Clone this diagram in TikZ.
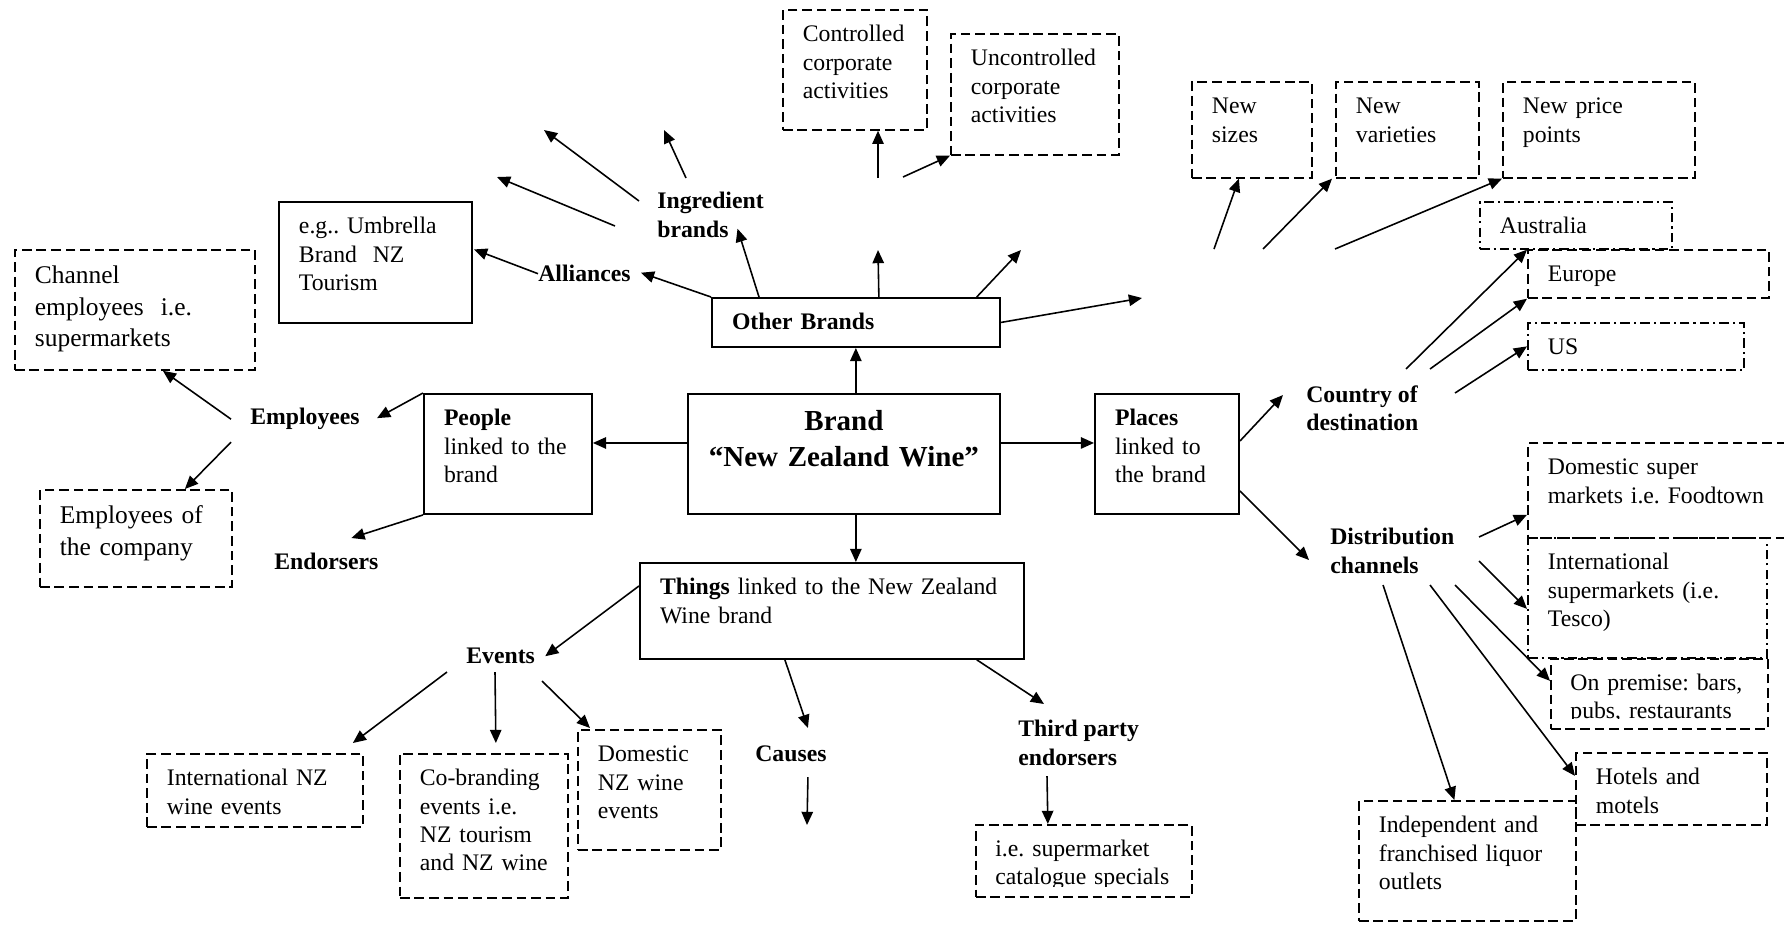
\documentclass[tikz,border=0pt]{standalone}
\usepackage{fontspec}
\setmainfont{Liberation Serif}
\usepackage{tikz}
\usetikzlibrary{arrows.meta,positioning,calc}
\frenchspacing

\begin{document}
\begin{tikzpicture}[x=0.02cm, y=-0.02cm,
        font=\fontsize{13.5}{16.1}\selectfont,
        tbox/.style={anchor=north west, align=left, inner xsep=11.4pt, inner ysep=6pt, text height=12.2pt},
        sbox/.style={draw, line width=1.1pt},
        dbox/.style={draw, line width=1pt, dash pattern=on 5.5pt off 2.8pt},
        ddbox/.style={draw, line width=1pt, dash pattern=on 5.5pt off 2.3pt on 1.2pt off 2.3pt},
        big/.style={font=\fontsize{14.5}{17.9}\selectfont, text height=13.3pt},
        lbl/.style={anchor=north west, inner sep=0pt, align=left, font=\fontsize{13.5}{16.1}\selectfont\bfseries},
        link/.style={-{Triangle[length=7.5pt,width=6.5pt]}, line width=0.9pt}
        ]
        \path[fill=white, use as bounding box] (0,0) rectangle (1784,924);
        \clip (0,0) rectangle (1784,924);

        % the brand and its four groups
        \node[tbox, sbox, align=center, inner xsep=4pt, text height=15pt, text width=169.5pt, text depth=41.3pt,
          font=\fontsize{16.5}{20.5}\selectfont\bfseries] (brand) at (687,393) {Brand\\“New Zealand Wine”};
        \node[tbox, sbox, text width=141pt, text depth=3.7pt, font=\fontsize{13.5}{16.1}\selectfont\bfseries] (other) at (711,297) {Other Brands};
        \node[tbox, sbox, text width=72.8pt, text depth=44.1pt] (people) at (423,393) {\textbf{People}\\linked to the\\brand};
        \node[tbox, sbox, text width=59.2pt, text depth=44.1pt] (places) at (1094,393) {\textbf{Places}\\linked to\\the brand};
        \node[tbox, sbox, text width=195.7pt, text depth=30.4pt] (things) at (639,562) {\textbf{Things} linked to the New Zealand\\Wine brand};
        \node[tbox, sbox, text width=87.1pt, text depth=44.6pt] (umbr) at (278,201) {e.g.. Umbrella\\Brand\ \ NZ\\Tourism};

        \node[tbox, dbox, text width=59.2pt, text depth=44.1pt] (ctrl) at (782,9) {Controlled\\corporate\\activities};
        \node[tbox, dbox, text width=72.8pt, text depth=44.6pt] (unctrl) at (950,33) {Uncontrolled\\corporate\\activities};
        \node[tbox, dbox, big, text width=113.8pt, text depth=43pt] (chemp) at (14,249) {Channel\\employees\ \ i.e.\\supermarkets};
        \node[tbox, dbox, big, text width=86.5pt, text depth=29.9pt] (empco) at (39,489) {Employees of\\the company};
        \node[tbox, dbox, text width=45.5pt, text depth=30.4pt] (newsz) at (1191,81) {New\\sizes};
        \node[tbox, dbox, text width=58.6pt, text depth=30.4pt] (newvar) at (1335,81) {New\\varieties};
        \node[tbox, dbox, text width=86.5pt, text depth=30.4pt] (newprice) at (1502,81) {New price\\points};
        \node[tbox, ddbox, text width=86.5pt, text depth=2.5pt] (aus) at (1479,201) {Australia};
        \node[tbox, dbox, text width=114.4pt, text depth=3.1pt] (eur) at (1527,249) {Europe};
        \node[tbox, ddbox, text width=100.2pt, text depth=2.5pt] (us) at (1527,322) {US};
        \node[tbox, dbox, text width=144pt, text depth=29.9pt] (domsup) at (1527,442) {Domestic super\\markets i.e. Foodtown};
        \node[tbox, ddbox, text width=113.2pt, text depth=44.1pt] (intsup) at (1527,537) {International\\supermarkets (i.e.\\Tesco)};
        \node[dbox, anchor=north west, inner sep=0pt, minimum width=123.5pt, minimum height=39.8pt] (onprem) at (1550,658) {};
        \begin{scope}
          \clip (onprem.north west) rectangle ($(onprem.south east)+(0,-11)$);
          \node[tbox, text width=110pt, text depth=0pt] (onpremtxt) at (onprem.north west) {On premise: bars,\\pubs, restaurants};
        \end{scope}
        \node[tbox, dbox, text width=85.9pt, text depth=16.8pt] (hotels) at (1575,752) {Hotels and\\motels};
        \node[tbox, dbox, text width=100.7pt, text depth=44.1pt] (indep) at (1358,800) {Independent and\\franchised liquor\\outlets};
        \node[dbox, anchor=north west, inner sep=0pt, minimum width=122.9pt, minimum height=41pt] (catal) at (975,824) {};
        \begin{scope}
          \clip (catal.north west) rectangle ($(catal.south east)+(0,-11)$);
          \node[tbox, text width=110pt, text depth=0pt] (cataltxt) at (catal.north west) {i.e. supermarket\\catalogue specials};
        \end{scope}
        \node[tbox, dbox, text width=100.2pt, text depth=17.3pt] (intev) at (146,753) {International NZ\\wine events};
        \node[tbox, dbox, text width=72.8pt, text depth=57.7pt] (cobr) at (399,753) {Co-branding\\events i.e.\\NZ tourism\\and NZ wine};
        \node[tbox, dbox, text width=58.6pt, text depth=44.1pt] (domev) at (577,729) {Domestic\\NZ wine\\events};

        % labels without a box
        \node[lbl] (ingr) at (657,192) {Ingredient\\brands};
        \node[lbl] (alli) at (538,265) {Alliances};
        \node[lbl] (emp) at (250,408) {Employees};
        \node[lbl] (endo) at (274,553) {Endorsers};
        \node[lbl] (events) at (466,648) {Events};
        \node[lbl] (causes) at (755,745) {Causes};
        \node[lbl] (third) at (1018,720) {Third party\\endorsers};
        \node[lbl] (country) at (1306,385) {Country of\\destination};
        \node[lbl] (distr) at (1330,528) {Distribution\\channels};

        \coordinate (ingrA) at (544,130);
        \coordinate (ingrB) at (664,130);
        \coordinate (ingrC) at (497,177);
        \coordinate (otherA) at (878,250);
        \coordinate (otherB) at (1021,250);
        \coordinate (otherC) at (1142,298);
        \coordinate (corpA) at (878,178);
        \coordinate (corpB) at (903,177);
        \coordinate (extA) at (1214,249);
        \coordinate (extB) at (1263,249);
        \coordinate (extC) at (1335,249);
        \coordinate (causeEnd) at (807,825);

        \draw[link] (other.south |- brand.north) -- (other.south);
        \draw[link] ($(brand.west)+(0,-11)$) -- ($(people.east)+(0,-11)$);
        \draw[link] ($(brand.east)+(0,-11)$) -- ($(places.west)+(0,-11)$);
        \draw[link] (other.south |- brand.south) -- (other.south |- things.north);

        \draw[link] (people.north west) -- ($(emp.east)+(17,-1)$);
        \draw[link] ($(emp.west)+(-19,0)$) -- ($(chemp.south)+(28,0)$);
        \draw[link] ($(emp.west)+(-19,23)$) -- ($(empco.north)+(49,0)$);
        \draw[link] (people.south west) -- ($(endo.north)+(25,-15)$);

        \draw[link] (other.north west) -- ($(alli.east)+(10,-1)$);
        \draw[link] (alli.west) -- ($(umbr.east)+(1,-13)$);
        \draw[link] ($(other.north west)+(48,0)$) -- ($(ingr.south)+(27,-9)$);
        \draw[link] ($(ingr.north west)+(-18,9)$) -- (ingrA);
        \draw[link] ($(ingr.north west)+(29,-14)$) -- (ingrB);
        \draw[link] ($(ingr.north west)+(-42,34)$) -- (ingrC);
        \draw[link] ($(other.north)+(23,0)$) -- (otherA);
        \draw[link] (corpA) -- (corpA |- ctrl.south);
        \draw[link] (corpB) -- (unctrl.south west);
        \draw[link] ($(other.north east)+(-24,0)$) -- (otherB);
        \draw[link] (other.east) -- (otherC);
        \draw[link] (extA) -- ($(newsz.south)+(-13,0)$);
        \draw[link] (extB) -- ($(newvar.south west)+(-3,0)$);
        \draw[link] (extC) -- (newprice.south west);

        \draw[link] ($(places.east)+(0,-13)$) -- ($(country.north west)+(-23,10)$);
        \draw[link] ($(country.north west)+(100,-16)$) -- ($(aus.south west)+(48,0)$);
        \draw[link] ($(country.north west)+(124,-16)$) -- (eur.south west);
        \draw[link] ($(country.north west)+(149,8)$) -- (us.west);
        \draw[link] ($(places.south east)+(0,-24)$) -- ($(distr.north west)+(-21,32)$);
        \draw[link] ($(distr.north west)+(149,9)$) -- ($(domsup.south west)+(0,-24)$);
        \draw[link] ($(distr.north west)+(149,33)$) -- ($(intsup.west)+(0,11)$);
        \draw[link] ($(distr.north west)+(125,57)$) -- ($(onprem.west)+(0,-13)$);
        \draw[link] ($(distr.north west)+(100,57)$) -- ($(hotels.west)+(0,-13)$);
        \draw[link] ($(distr.north west)+(53,57)$) -- ($(indep.north)+(-13,0)$);

        \draw[link] ($(things.west)+(0,-25)$) -- ($(events.east)+(10,0)$);
        \draw[link] ($(events.north west)+(-19,24)$) -- ($(intev.north east)+(-11,-10)$);
        \draw[link] ($(events.north west)+(29,24)$) -- ($(cobr.north)+(12,-10)$);
        \draw[link] ($(events.north west)+(76,33)$) -- ($(domev.north west)+(13,-1)$);
        \draw[link] ($(things.south)+(-47,0)$) -- ($(causes.north)+(17,-17)$);
        \draw[link] ($(causes.north)+(17,32)$) -- (causeEnd);
        \draw[link] ($(things.south east)+(-48,0)$) -- ($(third.north west)+(26,-16)$);
        \draw[link] ($(third.north west)+(29,56)$) -- ($(catal.north)+(-36,0)$);
      \end{tikzpicture}
\end{document}
